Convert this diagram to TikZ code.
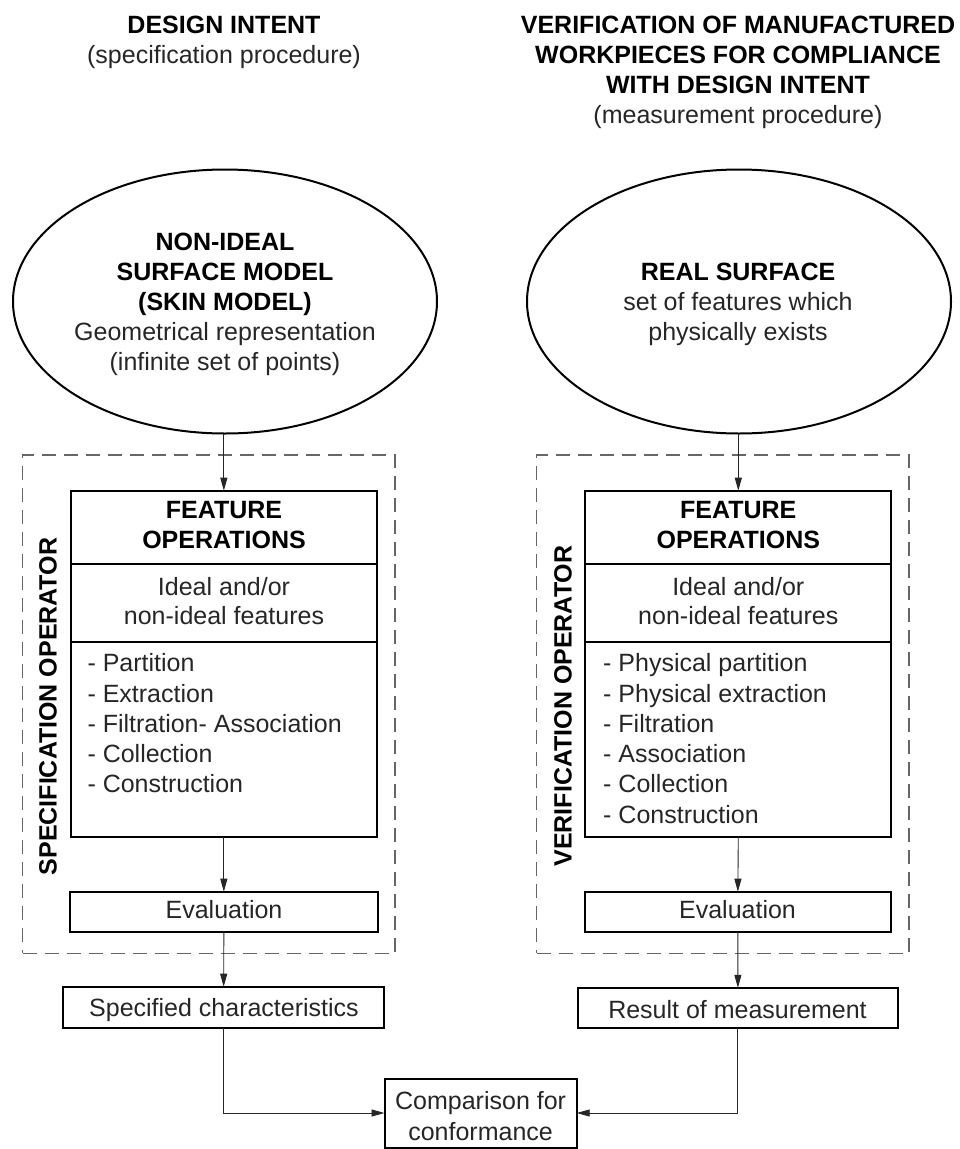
\documentclass[tikz,border=0pt]{standalone}
\usepackage{fontspec}
\setmainfont{Liberation Sans}
\usetikzlibrary{arrows.meta,shapes.geometric}
\begin{document}
\begin{tikzpicture}[x=1pt,y=-1pt,
  txt/.style={anchor=base,inner sep=0pt,outer sep=0pt,text=black!85,font=\fontsize{25}{30}\selectfont},
  btxt/.style={anchor=base,inner sep=0pt,outer sep=0pt,text=black,font=\fontsize{25}{30}\selectfont\bfseries},
  ltxt/.style={txt,anchor=base west},
  vtxt/.style={inner sep=0pt,outer sep=0pt,rotate=90,text=black,font=\fontsize{25}{30}\selectfont\bfseries},
  box/.style={draw,line width=2pt,inner sep=0pt,outer sep=0pt},
  oval/.style={ellipse,draw,line width=2pt,inner sep=0pt,outer sep=0pt,minimum width=424pt,minimum height=264pt},
  dashframe/.style={draw=black!60,line width=1.3pt,dash pattern=on 14pt off 8pt,inner sep=0pt,outer sep=0pt},
  conn/.style={draw=black!85,line width=0.9pt},
  arr/.style={conn,-{Triangle[length=13pt,width=7pt]}}
]
\useasboundingbox (0,0) rectangle (959,1149);

% headers
\node[btxt] (hL1) at (224,33) {DESIGN INTENT};
\node[txt] (hL2) at (224,63) {(specification procedure)};
\node[btxt] (hR1) at (738,33) {VERIFICATION OF MANUFACTURED};
\node[btxt] (hR2) at (738,63) {WORKPIECES FOR COMPLIANCE};
\node[btxt] (hR3) at (738,93) {WITH DESIGN INTENT};
\node[txt] (hR4) at (738,123) {(measurement procedure)};

% ellipses
\node[oval] (ellL) at (225,301.5) {};
\node[oval] (ellR) at (739,301.5) {};
\node[btxt] (eL1) at (225,250) {NON-IDEAL};
\node[btxt] (eL2) at (225,280) {SURFACE MODEL};
\node[btxt] (eL3) at (225,310) {(SKIN MODEL)};
\node[txt] (eL4) at (225,340) {Geometrical representation};
\node[txt] (eL5) at (225,370) {(infinite set of points)};
\node[btxt] (eR1) at (738,280.5) {REAL SURFACE};
\node[txt] (eR2) at (738,310.5) {set of features which};
\node[txt] (eR3) at (738,340.5) {physically exists};

% dashed operator frames
\node[dashframe,minimum width=372.3pt,minimum height=498.3pt] (opL) at (208.85,704.15) {};
\node[dashframe,minimum width=372.3pt,minimum height=498.3pt] (opR) at (722.85,704.15) {};
\node[vtxt] (opLt) at (48,706.5) {SPECIFICATION OPERATOR};
\node[vtxt] (opRt) at (563,706) {VERIFICATION OPERATOR};

% feature boxes
\node[box,minimum width=305.7pt,minimum height=346pt] (featL) at (223.85,663.7) {};
\node[box,minimum width=305.7pt,minimum height=346pt] (featR) at (738.3,663.7) {};
\draw[line width=2pt] (featL.west |- 0,564) -- (featL.east |- 0,564);
\draw[line width=2pt] (featL.west |- 0,641.7) -- (featL.east |- 0,641.7);
\draw[line width=2pt] (featR.west |- 0,564) -- (featR.east |- 0,564);
\draw[line width=2pt] (featR.west |- 0,641.7) -- (featR.east |- 0,641.7);

\node[btxt] (fL1) at (224,518.5) {FEATURE};
\node[btxt] (fL2) at (224,548) {OPERATIONS};
\node[txt] (fL3) at (224,595) {Ideal and/or};
\node[txt] (fL4) at (224,624.5) {non-ideal features};
\node[ltxt] (lL1) at (87.5,671.7) {- Partition};
\node[ltxt] (lL2) at (87.5,702) {- Extraction};
\node[ltxt] (lL3) at (87.5,732.3) {- Filtration- Association};
\node[ltxt] (lL4) at (87.5,762.5) {- Collection};
\node[ltxt] (lL5) at (87.5,792.7) {- Construction};

\node[btxt] (fR1) at (738.3,518.5) {FEATURE};
\node[btxt] (fR2) at (738.3,548) {OPERATIONS};
\node[txt] (fR3) at (738.3,595) {Ideal and/or};
\node[txt] (fR4) at (738.3,624.5) {non-ideal features};
\node[ltxt] (lR1) at (603.2,671.7) {- Physical partition};
\node[ltxt] (lR2) at (603.2,702) {- Physical extraction};
\node[ltxt] (lR3) at (603.2,732.3) {- Filtration};
\node[ltxt] (lR4) at (603.2,762.5) {- Association};
\node[ltxt] (lR5) at (603.2,792.7) {- Collection};
\node[ltxt] (lR6) at (603.2,823) {- Construction};

% evaluation boxes
\node[box,minimum width=307.7pt,minimum height=40pt] (evL) at (223.85,911.7) {};
\node[box,minimum width=305.7pt,minimum height=40pt] (evR) at (737.85,911.7) {};
\node[txt] (evLt) at (224,918) {Evaluation};
\node[txt] (evRt) at (737.5,918) {Evaluation};

% result boxes
\node[box,minimum width=320.7pt,minimum height=41pt] (specL) at (223.65,1007.2) {};
\node[box,minimum width=320.8pt,minimum height=40pt] (resR) at (737.9,1007.85) {};
\node[txt] (specLt) at (224,1016.5) {Specified characteristics};
\node[txt] (resRt) at (737.5,1018) {Result of measurement};

% comparison
\node[box,minimum width=192.2pt,minimum height=69pt] (cmp) at (480.6,1113) {};
\node[txt] (cmp1) at (480.6,1109.5) {Comparison for};
\node[txt] (cmp2) at (480.6,1140) {conformance};

% connectors
\draw[arr] (ellL.south -| featL.north) -- (featL.north);
\draw[arr] (featL.south) -- (evL.north);
\draw[arr] (evL.south) -- (specL.north);
\draw[arr] (specL.south) |- (cmp.west);
\draw[arr] (ellR.south -| featR.north) -- (featR.north);
\draw[arr] (featR.south) -- (evR.north);
\draw[arr] (evR.south) -- (resR.north);
\draw[arr] (resR.south) |- (cmp.east);
\end{tikzpicture}
\end{document}
